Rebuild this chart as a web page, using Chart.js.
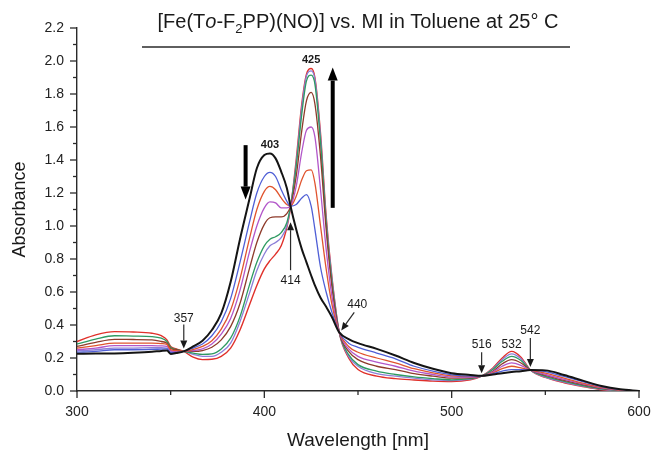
<!DOCTYPE html>
<html>
<head>
<meta charset="utf-8">
<script src="https://cdn.jsdelivr.net/npm/chart.js@4.4.0/dist/chart.umd.min.js"></script>
<style>
  html, body { margin: 0; padding: 0; background: #fff; }
  canvas { display: block; }
</style>
</head>
<body>
<canvas id="spectra" width="652" height="451"></canvas>
<script>

// wavelength grid (nm) shared by every spectrum
const wavelengths = [300, 310, 320, 330, 340, 345, 348, 350, 353, 357, 362, 367, 372, 377, 382, 387, 392, 396, 400, 403,
  406, 409, 412, 414, 417, 420, 422.5, 425, 427, 430, 433, 436, 440, 445, 450, 460, 470, 480, 490, 500,
  510, 516, 522, 527, 532, 537, 542, 550, 560, 570, 580, 590, 600];

// absorbance, one array per trace of the titration
const absBlack = [0.225, 0.227, 0.228, 0.232, 0.238, 0.243, 0.245, 0.225, 0.23, 0.24, 0.27, 0.305, 0.37, 0.47, 0.66, 0.92, 1.16, 1.35, 1.43, 1.44,
  1.41, 1.33, 1.23, 1.12, 0.98, 0.86, 0.78, 0.70, 0.64, 0.565, 0.51, 0.45, 0.355, 0.315, 0.29, 0.255, 0.215, 0.17, 0.135, 0.108,
  0.097, 0.092, 0.10, 0.108, 0.115, 0.12, 0.127, 0.125, 0.097, 0.063, 0.03, 0.01, 0];
const absBlue = [0.235, 0.24, 0.25, 0.25, 0.252, 0.254, 0.255, 0.232, 0.234, 0.24, 0.26, 0.285, 0.335, 0.42, 0.56, 0.78, 1.02, 1.2, 1.30, 1.325,
  1.30, 1.22, 1.15, 1.12, 1.13, 1.17, 1.19, 1.12, 0.98, 0.75, 0.60, 0.48, 0.355, 0.29, 0.265, 0.23, 0.195, 0.15, 0.12, 0.098,
  0.09, 0.092, 0.105, 0.12, 0.13, 0.13, 0.127, 0.117, 0.088, 0.057, 0.026, 0.008, 0];
const absRed1 = [0.26, 0.275, 0.29, 0.29, 0.29, 0.287, 0.282, 0.25, 0.245, 0.24, 0.252, 0.27, 0.305, 0.375, 0.49, 0.68, 0.92, 1.10, 1.21, 1.24,
  1.22, 1.17, 1.13, 1.12, 1.18, 1.28, 1.335, 1.34, 1.26, 1.0, 0.74, 0.53, 0.355, 0.27, 0.235, 0.20, 0.17, 0.135, 0.11, 0.092,
  0.087, 0.09, 0.11, 0.135, 0.15, 0.14, 0.127, 0.108, 0.078, 0.048, 0.022, 0.006, 0];
const absPurple = [0.25, 0.26, 0.275, 0.275, 0.275, 0.273, 0.27, 0.245, 0.24, 0.24, 0.245, 0.255, 0.285, 0.345, 0.44, 0.61, 0.84, 1.0, 1.11, 1.146,
  1.14, 1.11, 1.11, 1.12, 1.24, 1.45, 1.58, 1.60, 1.54, 1.22, 0.86, 0.58, 0.355, 0.255, 0.21, 0.175, 0.15, 0.12, 0.10, 0.085,
  0.083, 0.09, 0.115, 0.15, 0.17, 0.155, 0.127, 0.10, 0.07, 0.043, 0.019, 0.005, 0];
const absBrown = [0.27, 0.295, 0.313, 0.312, 0.31, 0.30, 0.29, 0.258, 0.25, 0.24, 0.24, 0.245, 0.265, 0.31, 0.39, 0.53, 0.74, 0.90, 1.01, 1.05,
  1.055, 1.055, 1.075, 1.12, 1.30, 1.58, 1.76, 1.81, 1.74, 1.42, 0.98, 0.64, 0.355, 0.24, 0.19, 0.15, 0.13, 0.105, 0.09, 0.078,
  0.079, 0.09, 0.12, 0.165, 0.19, 0.17, 0.127, 0.095, 0.064, 0.038, 0.016, 0.004, 0];
const absGreen = [0.285, 0.315, 0.335, 0.333, 0.33, 0.32, 0.30, 0.265, 0.252, 0.24, 0.23, 0.222, 0.225, 0.255, 0.32, 0.45, 0.64, 0.78, 0.88, 0.92,
  0.935, 0.96, 1.02, 1.12, 1.36, 1.68, 1.88, 1.915, 1.86, 1.51, 1.02, 0.67, 0.355, 0.22, 0.16, 0.12, 0.10, 0.085, 0.075, 0.068,
  0.075, 0.09, 0.13, 0.18, 0.21, 0.185, 0.127, 0.088, 0.058, 0.033, 0.013, 0.003, 0];
const absLavender = [0.245, 0.25, 0.26, 0.26, 0.262, 0.262, 0.26, 0.24, 0.238, 0.24, 0.222, 0.21, 0.21, 0.235, 0.29, 0.42, 0.59, 0.73, 0.83, 0.88,
  0.90, 0.93, 1.0, 1.12, 1.38, 1.72, 1.91, 1.94, 1.89, 1.54, 1.04, 0.69, 0.355, 0.21, 0.15, 0.105, 0.09, 0.078, 0.068, 0.063,
  0.072, 0.09, 0.135, 0.19, 0.225, 0.195, 0.127, 0.084, 0.054, 0.03, 0.01, 0.002, 0];
const absRed = [0.30, 0.34, 0.36, 0.358, 0.35, 0.335, 0.31, 0.27, 0.255, 0.24, 0.205, 0.19, 0.192, 0.21, 0.26, 0.37, 0.52, 0.64, 0.74, 0.79,
  0.83, 0.88, 0.99, 1.11, 1.40, 1.74, 1.92, 1.955, 1.90, 1.56, 1.06, 0.70, 0.355, 0.20, 0.13, 0.09, 0.075, 0.067, 0.06, 0.057,
  0.068, 0.09, 0.14, 0.20, 0.24, 0.205, 0.127, 0.082, 0.05, 0.027, 0.008, 0.001, 0];

// isosbestic points and band maxima marked on the plot
const isoWavelengths = [357, 414, 440, 516, 542];
const isoAbsorbance = [0.24, 1.12, 0.355, 0.09, 0.127];
const peakWavelengths = [403, 425, 532];
const peakAbsorbance = [1.44, 1.955, 0.24];

const yTicks = [0, 0.2, 0.4, 0.6, 0.8, 1.0, 1.2, 1.4, 1.6, 1.8, 2.0, 2.2];
const xTicks = [300, 400, 500, 600];

const FONT = "'Liberation Sans', Arial, sans-serif";

function series(values, color, width) {
  return {
    data: wavelengths.map((w, i) => ({ x: w, y: values[i] })),
    borderColor: color,
    borderWidth: width,
    pointRadius: 0,
    fill: false,
    cubicInterpolationMode: 'monotone'
  };
}

function arrow(ctx, x1, y1, x2, y2, head, half, width) {
  const a = Math.atan2(y2 - y1, x2 - x1);
  const bx = x2 - head * Math.cos(a), by = y2 - head * Math.sin(a);
  ctx.lineWidth = width;
  ctx.beginPath(); ctx.moveTo(x1, y1); ctx.lineTo(bx, by); ctx.stroke();
  ctx.beginPath();
  ctx.moveTo(x2, y2);
  ctx.lineTo(bx + half * Math.sin(a), by - half * Math.cos(a));
  ctx.lineTo(bx - half * Math.sin(a), by + half * Math.cos(a));
  ctx.closePath();
  ctx.fill();
}

const decorations = {
  id: 'decorations',
  afterDraw(chart) {
    const ctx = chart.ctx;
    const x = chart.scales.x, y = chart.scales.y;
    const area = chart.chartArea;
    ctx.save();
    ctx.strokeStyle = '#2a2a2a';
    ctx.fillStyle = '#1a1a1a';

    // tick marks, major and minor
    ctx.lineWidth = 1.3;
    for (let i = 0; i <= 22; i++) {
      const py = y.getPixelForValue(i / 10);
      const len = i % 2 === 0 ? 7 : 4;
      ctx.beginPath(); ctx.moveTo(area.left - len, py); ctx.lineTo(area.left, py); ctx.stroke();
    }
    for (let v = 300; v <= 600; v += 50) {
      const px = x.getPixelForValue(v);
      const len = v % 100 === 0 ? 7 : 4;
      ctx.beginPath(); ctx.moveTo(px, area.bottom); ctx.lineTo(px, area.bottom + len); ctx.stroke();
    }

    // axis titles
    ctx.textAlign = 'center';
    ctx.textBaseline = 'middle';
    ctx.font = '19px ' + FONT;
    ctx.fillText('Wavelength [nm]', (area.left + area.right) / 2, 441);
    ctx.save();
    ctx.translate(20, (area.top + area.bottom) / 2);
    ctx.rotate(-Math.PI / 2);
    ctx.font = '18px ' + FONT;
    ctx.fillText('Absorbance', 0, 0);
    ctx.restore();

    // title with italic o and subscript 2
    const parts = [
      ['[Fe(T', '20px ' + FONT, 0],
      ['o', 'italic 20px ' + FONT, 0],
      ['-F', '20px ' + FONT, 0],
      ['2', '13px ' + FONT, 5],
      ['PP)(NO)] vs. MI in Toluene at 25° C', '20px ' + FONT, 0]
    ];
    let total = 0;
    parts.forEach(p => { ctx.font = p[1]; total += ctx.measureText(p[0]).width; });
    let tx = 358 - total / 2;
    ctx.textAlign = 'left';
    ctx.textBaseline = 'alphabetic';
    parts.forEach(p => {
      ctx.font = p[1];
      ctx.fillText(p[0], tx, 28 + p[2]);
      tx += ctx.measureText(p[0]).width;
    });
    ctx.lineWidth = 1.3;
    ctx.beginPath(); ctx.moveTo(142, 47); ctx.lineTo(570, 47); ctx.stroke();

    // isosbestic arrows: [tail dx, tail dy, tip dx, tip dy, label dx, label dy]
    const offs = {
      357: [0, -27, 0, -3, 0, -33],
      414: [0, 64, 0, 16, 0, 74],
      440: [15, -20, 2, -2, 18, -28],
      516: [0, -24, 0, -3, 0, -31],
      542: [0, -32, 0, -3, 0, -39]
    };
    ctx.font = '12px ' + FONT;
    ctx.textAlign = 'center';
    ctx.textBaseline = 'middle';
    isoWavelengths.forEach((w, i) => {
      const px = x.getPixelForValue(w), py = y.getPixelForValue(isoAbsorbance[i]);
      const o = offs[w];
      arrow(ctx, px + o[0], py + o[1], px + o[2], py + o[3], 8, 3.5, 1.2);
      ctx.fillText(String(w), px + o[4], py + o[5]);
    });

    // band labels
    peakWavelengths.forEach((w, i) => {
      const px = x.getPixelForValue(w), py = y.getPixelForValue(peakAbsorbance[i]);
      if (w === 532) {
        ctx.font = '12px ' + FONT;
        ctx.fillText('532', px, y.getPixelForValue(0.09) - 31);
      } else {
        ctx.font = 'bold 11px ' + FONT;
        ctx.fillText(String(w), px, py - 8);
      }
    });

    // direction of change
    ctx.fillStyle = '#000';
    ctx.strokeStyle = '#000';
    const dx = x.getPixelForValue(390);
    arrow(ctx, dx, y.getPixelForValue(1.49), dx, y.getPixelForValue(1.16), 13, 5, 4);
    const ux = x.getPixelForValue(436.5);
    arrow(ctx, ux, y.getPixelForValue(1.11), ux, y.getPixelForValue(1.96), 13, 5, 4);

    ctx.restore();
  }
};

new Chart(document.getElementById('spectra'), {
  type: 'line',
  data: {
    datasets: [
      series(absBlack, '#141414', 2),
      series(absBlue, '#4f5fd6', 1.3),
      series(absRed1, '#e0542e', 1.3),
      series(absPurple, '#b256c9', 1.3),
      series(absBrown, '#8e3b2b', 1.3),
      series(absGreen, '#2e9a62', 1.3),
      series(absLavender, '#8c7fd8', 1.3),
      series(absRed, '#e0302a', 1.4)
    ]
  },
  options: {
    responsive: false,
    animation: false,
    layout: { padding: { left: 0, right: 0, top: 28, bottom: 0 } },
    plugins: {
      legend: { display: false },
      tooltip: { enabled: false }
    },
    scales: {
      x: {
        type: 'linear',
        min: 300,
        max: 600,
        afterFit: (s) => { s.height = 60; s.paddingLeft = 0; s.paddingRight = 13; },
        afterBuildTicks: (s) => { s.ticks = xTicks.map(v => ({ value: v })); },
        grid: { display: false, drawTicks: false },
        border: { display: true, color: '#2a2a2a', width: 1.4 },
        ticks: { font: { family: FONT, size: 14 }, color: '#222', padding: 13, maxRotation: 0 }
      },
      y: {
        min: 0,
        max: 2.2,
        afterFit: (s) => { s.width = 77; },
        afterBuildTicks: (s) => { s.ticks = yTicks.map(v => ({ value: v })); },
        grid: { display: false, drawTicks: false },
        border: { display: true, color: '#2a2a2a', width: 1.4 },
        ticks: {
          font: { family: FONT, size: 14 },
          color: '#222',
          padding: 13,
          callback: (v) => Number(v).toFixed(1)
        }
      }
    }
  },
  plugins: [decorations]
});
</script>
</body>
</html>
